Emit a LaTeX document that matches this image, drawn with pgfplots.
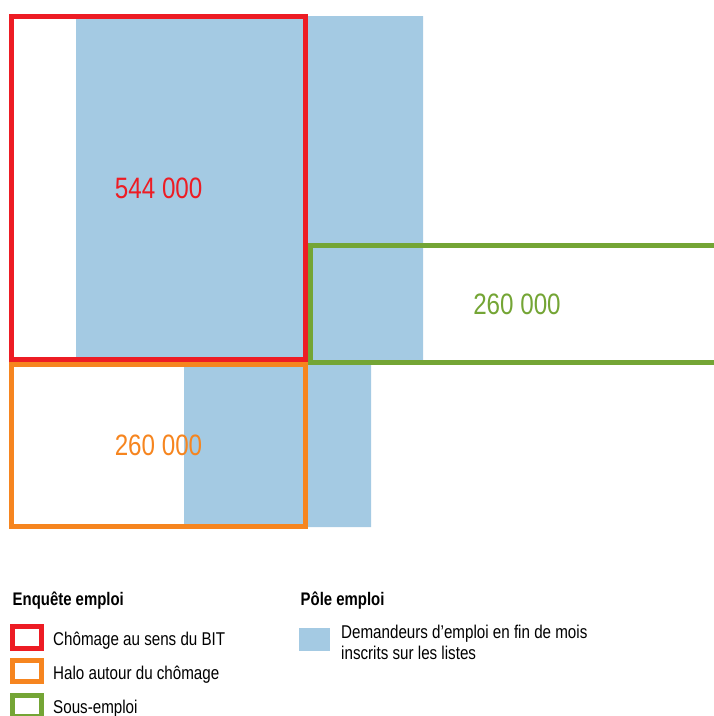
\documentclass[border=0pt]{standalone}
\usepackage{pgfplots}
\pgfplotsset{compat=1.18}
\usepackage{fontspec}
\setmainfont{Liberation Sans}[FakeStretch=0.82]
\definecolor{cred}{HTML}{ED1C24}
\definecolor{corange}{HTML}{F6851F}
\definecolor{cgreen}{HTML}{74A535}
\definecolor{cblue}{HTML}{A4CAE3}
\begin{document}
\begin{tikzpicture}
\begin{axis}[
  scale only axis, width=714pt, height=716pt,
  xmin=0, xmax=714, ymin=0, ymax=716, y dir=reverse,
  hide axis, clip=true,
]
% Pôle emploi (blue area)
\addplot[fill=cblue, draw=none] coordinates {(76,16) (423,16) (423,360) (371,360) (371,527) (184,527) (184,360) (76,360)} -- cycle;
% Enquête emploi boxes
\addplot[draw=corange, line width=5pt, line join=miter] coordinates {(11.5,364.5) (305.5,364.5) (305.5,526) (11.5,526)} -- cycle;
\addplot[draw=cred, line width=5pt, line join=miter] coordinates {(11.5,16.5) (305.5,16.5) (305.5,359.5) (11.5,359.5)} -- cycle;
\addplot[draw=cgreen, line width=5pt, line join=miter] coordinates {(310.5,245.5) (740,245.5) (740,362) (310.5,362)} -- cycle;
% legend squares
\addplot[draw=cred, line width=5pt, line join=miter] coordinates {(12.5,626.5) (41.5,626.5) (41.5,648) (12.5,648)} -- cycle;
\addplot[draw=corange, line width=5pt, line join=miter] coordinates {(12.5,660.5) (41.5,660.5) (41.5,681.5) (12.5,681.5)} -- cycle;
\addplot[draw=cgreen, line width=5pt, line join=miter] coordinates {(12.5,695.5) (41.5,695.5) (41.5,716.5) (12.5,716.5)} -- cycle;
\addplot[fill=cblue, draw=none] coordinates {(299,628) (330,628) (330,651) (299,651)} -- cycle;
% values
\node[text=cred, font=\fontsize{29.5}{30}\selectfont] at (axis cs:158.7,188) {544 000};
\node[text=corange, font=\fontsize{29.5}{30}\selectfont] at (axis cs:158.5,445) {260 000};
\node[text=cgreen, font=\fontsize{29.5}{30}\selectfont] at (axis cs:517,304) {260 000};
% legend text
\node[anchor=base west, inner sep=0pt, font=\fontsize{18.2}{19}\selectfont\bfseries] at (axis cs:12.5,605) {Enquête emploi};
\node[anchor=base west, inner sep=0pt, font=\fontsize{18.2}{19}\selectfont\bfseries] at (axis cs:300.5,605) {Pôle emploi};
\node[anchor=base west, inner sep=0pt, font=\fontsize{18.5}{19}\selectfont] at (axis cs:53,645) {Chômage au sens du BIT};
\node[anchor=base west, inner sep=0pt, font=\fontsize{18.5}{19}\selectfont] at (axis cs:53,679) {Halo autour du chômage};
\node[anchor=base west, inner sep=0pt, font=\fontsize{18.5}{19}\selectfont] at (axis cs:53,713) {Sous-emploi};
\node[anchor=base west, inner sep=0pt, font=\fontsize{18.5}{19}\selectfont] at (axis cs:341,638.5) {Demandeurs d’emploi en fin de mois};
\node[anchor=base west, inner sep=0pt, font=\fontsize{18.5}{19}\selectfont] at (axis cs:341,659.5) {inscrits sur les listes};
\end{axis}
\pgfresetboundingbox
\path[use as bounding box] (current axis.south west) rectangle (current axis.north east);
\end{tikzpicture}
\end{document}
